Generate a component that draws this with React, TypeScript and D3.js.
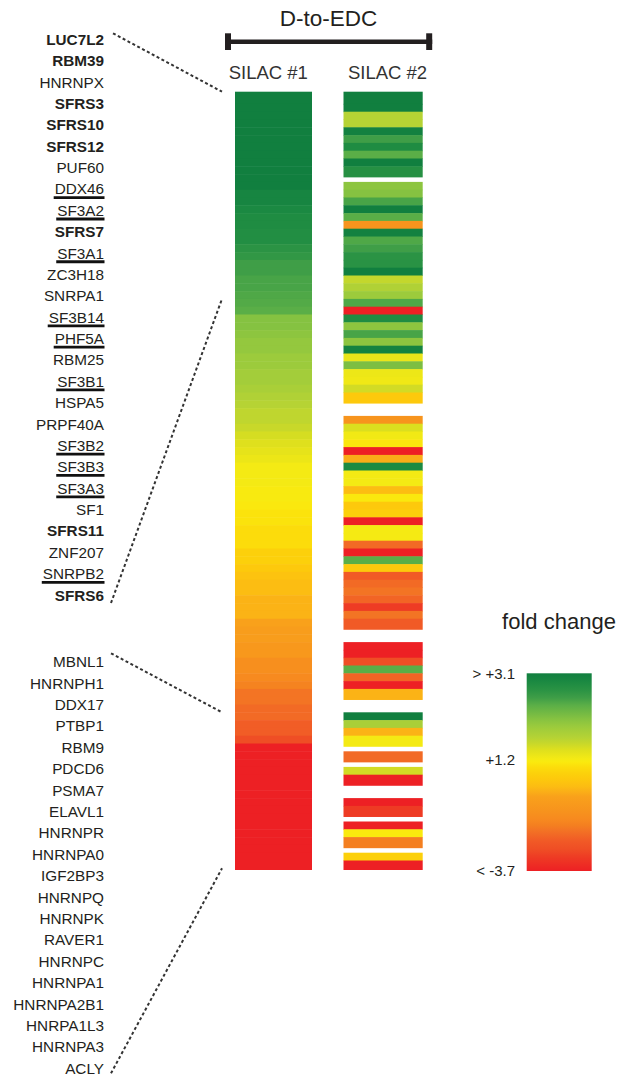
import React, { useEffect, useRef } from "react";
import * as d3 from "d3";

// ---------------- data ----------------
const title = "D-to-EDC";
const columnLabels = ["SILAC #1", "SILAC #2"];
const legendTitle = "fold change";

const genesTop = [
  "LUC7L2", "RBM39", "HNRNPX", "SFRS3", "SFRS10", "SFRS12", "PUF60", "DDX46", "SF3A2",
  "SFRS7", "SF3A1", "ZC3H18", "SNRPA1", "SF3B14", "PHF5A", "RBM25", "SF3B1", "HSPA5",
  "PRPF40A", "SF3B2", "SF3B3", "SF3A3", "SF1", "SFRS11", "ZNF207", "SNRPB2", "SFRS6",
];
const genesBottom = [
  "MBNL1", "HNRNPH1", "DDX17", "PTBP1", "RBM9", "PDCD6", "PSMA7", "ELAVL1", "HNRNPR",
  "HNRNPA0", "IGF2BP3", "HNRNPQ", "HNRNPK", "RAVER1", "HNRNPC", "HNRNPA1", "HNRNPA2B1",
  "HNRPA1L3", "HNRNPA3", "ACLY",
];
const boldGenes = ["LUC7L2", "RBM39", "SFRS3", "SFRS10", "SFRS12", "SFRS7", "SFRS11", "SFRS6"];
const underlinedGenes = [
  "DDX46", "SF3A2", "SF3A1", "SF3B14", "PHF5A", "SF3B1", "SF3B2", "SF3B3", "SF3A3", "SNRPB2",
];

// fold change per protein row (sorted by SILAC #1)
const silac1: number[] = [
  3.1, 3.1, 3.1, 3.1, 3.1, 3.1, 3.1, 3.1, 3.1, 3.1, 3.1, 3.1,
  2.95, 2.95, 2.87, 2.8, 2.8, 2.75, 2.75, 2.62, 2.55, 2.4, 2.4, 2.33, 2.33, 2.28, 2.25, 2.2,
  1.95, 1.95, 1.9, 1.85, 1.85, 1.8, 1.8, 1.75, 1.75, 1.7, 1.65, 1.6, 1.55, 1.55, 1.5, 1.43,
  1.38, 1.33, 1.28, 1.22, 1.22, 1.22, 1.15, 1.15, 1.05, 0.95, 0.95, 0.8, 0.8, 0.8, 0.45, 0.45,
  0.2, 0.0, -0.2, -0.2, -0.4, -0.4, -0.4, -0.7, -0.9, -0.9, -1.1, -1.1, -1.5, -1.5, -1.7, -1.9,
  -2.2, -2.2, -2.35, -2.35, -2.55, -2.55, -2.9,
  -3.7, -3.7, -3.7, -3.7, -3.7, -3.7, -3.7, -3.7, -3.7, -3.7, -3.7, -3.7, -3.7, -3.7, -3.7, -3.7,
];
const silac2: (number | null)[] = [
  3.1, 3.1, 1.6, 1.6, 3.05, 2.4, 2.8, 2.2, 3.1, 2.7,
  null, 1.9, 1.95, 2.33, 3.1, 2.2, -1.3, 3.05, 2.28, 2.4,
  2.62, 2.65, 3.1, 1.53, 1.65, 1.8, 2.28, -3.7, 2.8, 1.9,
  2.33, 1.9, 3.0, 1.3, 2.0, 1.27, 1.25, 1.45, 0.2, null,
  null, -1.3, 1.4, 1.24, 1.0, -3.7, -0.5, 2.85, 1.22, 1.22,
  -0.2, 1.05, 0.2, 0.45, -3.7, 1.2, 1.2, -2.35, -3.7, 2.2,
  0.2, -2.6, -2.35, -2.2, -2.45, -3.2, -2.2, -2.6, null, null,
  -3.7, -3.7, -2.9, 2.2, -2.45, -3.7, -0.4, null, null, 3.1,
  1.7, -0.4, 1.22, null, -2.35, null, 1.45, -3.7, null, null,
  -3.7, -3.2, null, -3.7, 1.1, -2.0, null, 0.45, -3.7,
];

// colour scale (fold change -> colour)
const colorDomain = [
  3.1, 2.95, 2.8, 2.62, 2.4, 2.2, 1.95, 1.8, 1.6, 1.5, 1.38, 1.22, 1.1, 0.8, 0.45, 0.2,
  -0.2, -0.4, -0.7, -1.3, -1.7, -2.0, -2.2, -2.35, -2.6, -2.9, -3.2, -3.7,
];
const colorRange = [
  "#117f3f", "#178541", "#1f8c42", "#2b9344", "#3f9e47", "#5aae47", "#85c241", "#9ccb3c",
  "#b6d334", "#c8d82a", "#dfe01d", "#f4ea14", "#faea0e", "#fcdc0b", "#fcd00b", "#fdc90c",
  "#fcbd12", "#fbb316", "#f9a11b", "#f7941d", "#f78a1f", "#f47f20", "#f37424", "#f26a25",
  "#f15a26", "#ef4e25", "#ee3b24", "#ed2024",
];
const legendTickValues = [3.1, 1.2, -3.7];
const legendTickLabels = ["> +3.1", "+1.2", "< -3.7"];
const legendPosDomain = [3.1, 2.2, 1.2, -0.4, -2.2, -3.7];

// ---------------- component ----------------
const W = 634;
const H = 1078;
const FONT = "'Liberation Sans', Arial, Helvetica, sans-serif";
const INK = "#231f20";

export default function App() {
  const ref = useRef<SVGSVGElement>(null);

  useEffect(() => {
    const svg = d3.select(ref.current);
    svg.selectAll("*").remove();

    const color = d3
      .scaleLinear<string>()
      .domain(colorDomain)
      .range(colorRange)
      .interpolate(d3.interpolateRgb)
      .clamp(true);

    // heatmap layout
    const heatTop = 91.7;
    const heatBottom = 870;
    const row = d3
      .scaleBand<number>()
      .domain(d3.range(silac1.length))
      .range([96.1, 868.3]);
    const h = row.bandwidth();
    const cols = [
      { x: 235, w: 77, vals: silac1 as (number | null)[] },
      { x: 343.5, w: 79.2, vals: silac2 },
    ];

    const g = svg.append("g");
    cols.forEach((c) => {
      const n = c.vals.length;
      c.vals.forEach((v, i) => {
        if (v === null) return;
        let y0 = row(i)!;
        let y1 = y0 + h;
        if (i === 0) y0 = heatTop;
        if (i === n - 1) y1 = heatBottom;
        else if (c.vals[i + 1] === null) y1 = y0 + h + 0.42 * h;
        else y1 += 0.5; // overlap to avoid seams
        g.append("rect")
          .attr("x", c.x)
          .attr("y", y0)
          .attr("width", c.w)
          .attr("height", y1 - y0)
          .attr("fill", color(v));
      });
    });

    // title, bar, column labels
    const barL = cols[0].x - 10;
    const barR = cols[1].x + cols[1].w + 9.5;
    svg
      .append("text")
      .attr("x", (barL + barR) / 2)
      .attr("y", 25.7)
      .attr("text-anchor", "middle")
      .attr("font-family", FONT)
      .attr("font-size", 22.5)
      .attr("fill", INK)
      .text(title);
    svg
      .append("line")
      .attr("x1", barL)
      .attr("x2", barR)
      .attr("y1", 41.7)
      .attr("y2", 41.7)
      .attr("stroke", INK)
      .attr("stroke-width", 4.5);
    [barL, barR - 6].forEach((x) =>
      svg
        .append("rect")
        .attr("x", x)
        .attr("y", 33.3)
        .attr("width", 6)
        .attr("height", 16.7)
        .attr("fill", INK)
    );
    const colLabelX = [268.3, 387.5];
    columnLabels.forEach((t, i) =>
      svg
        .append("text")
        .attr("x", colLabelX[i])
        .attr("y", 79)
        .attr("text-anchor", "middle")
        .attr("font-family", FONT)
        .attr("font-size", 18.5)
        .attr("fill", "#333")
        .text(t)
    );

    // gene labels
    const labelRight = 104;
    const fs = 15.3;
    const yTop = d3.scalePoint<string>().domain(genesTop).range([39.3, 595]);
    const yBot = d3.scalePoint<string>().domain(genesBottom).range([661.7, 1068.3]);
    const drawLabels = (genes: string[], ys: d3.ScalePoint<string>) => {
      genes.forEach((gname) => {
        const cy = ys(gname)!;
        const t = svg
          .append("text")
          .attr("x", labelRight)
          .attr("y", cy + fs * 0.36)
          .attr("text-anchor", "end")
          .attr("font-family", FONT)
          .attr("font-size", fs)
          .attr("font-weight", boldGenes.includes(gname) ? "bold" : "normal")
          .attr("fill", INK)
          .text(gname);
        if (underlinedGenes.includes(gname)) {
          const len = (t.node() as SVGTextElement).getComputedTextLength();
          svg
            .append("line")
            .attr("x1", labelRight - len - 1)
            .attr("x2", labelRight + 0.5)
            .attr("y1", cy + 8.7)
            .attr("y2", cy + 8.7)
            .attr("stroke", "#111")
            .attr("stroke-width", 2.8);
        }
      });
    };
    drawLabels(genesTop, yTop);
    drawLabels(genesBottom, yBot);

    // dashed connectors
    const connX = cols[0].x - 13;
    const lastRow = silac1.length - 1;
    const firstBottomRow = silac1.length - genesBottom.length;
    const connectors = [
      [labelRight + 9, yTop(genesTop[0])! - 6, connX, heatTop],
      [labelRight + 7, yTop(genesTop[genesTop.length - 1])! + 8, connX, row(genesTop.length - 1)!],
      [labelRight + 7, yBot(genesBottom[0])! - 8.4, connX, row(firstBottomRow)!],
      [labelRight + 7, yBot(genesBottom[genesBottom.length - 1])! + 5, connX, row(lastRow)! + h],
    ];
    connectors.forEach(([x1, y1, x2, y2]) =>
      svg
        .append("line")
        .attr("x1", x1)
        .attr("y1", y1)
        .attr("x2", x2)
        .attr("y2", y2)
        .attr("stroke", "#333")
        .attr("stroke-width", 2)
        .attr("stroke-dasharray", "3,2.5")
    );

    // legend
    const lgX = 526.7;
    const lgW = 65;
    const lgTop = 673.3;
    const lgBottom = 871;
    const legendY = d3
      .scaleLinear()
      .domain(legendPosDomain)
      .range([lgTop, 705, 760, 790, 830, lgBottom]);
    const defs = svg.append("defs");
    const grad = defs
      .append("linearGradient")
      .attr("id", "fcgrad")
      .attr("x1", 0)
      .attr("x2", 0)
      .attr("y1", 0)
      .attr("y2", 1);
    colorDomain.forEach((v) => {
      grad
        .append("stop")
        .attr("offset", (legendY(v) - lgTop) / (lgBottom - lgTop))
        .attr("stop-color", color(v));
    });
    svg
      .append("rect")
      .attr("x", lgX)
      .attr("y", lgTop)
      .attr("width", lgW)
      .attr("height", lgBottom - lgTop)
      .attr("fill", "url(#fcgrad)");
    svg
      .append("text")
      .attr("x", 559)
      .attr("y", 629)
      .attr("text-anchor", "middle")
      .attr("font-family", FONT)
      .attr("font-size", 22)
      .attr("fill", INK)
      .text(legendTitle);
    legendTickValues.forEach((v, i) =>
      svg
        .append("text")
        .attr("x", 515)
        .attr("y", legendY(v) + 5.3)
        .attr("text-anchor", "end")
        .attr("font-family", FONT)
        .attr("font-size", 15)
        .attr("fill", INK)
        .text(legendTickLabels[i])
    );
  }, []);

  return (
    <svg
      ref={ref}
      width={W}
      height={H}
      style={{ position: "absolute", left: 0, top: 0, background: "#fff", display: "block" }}
    />
  );
}
